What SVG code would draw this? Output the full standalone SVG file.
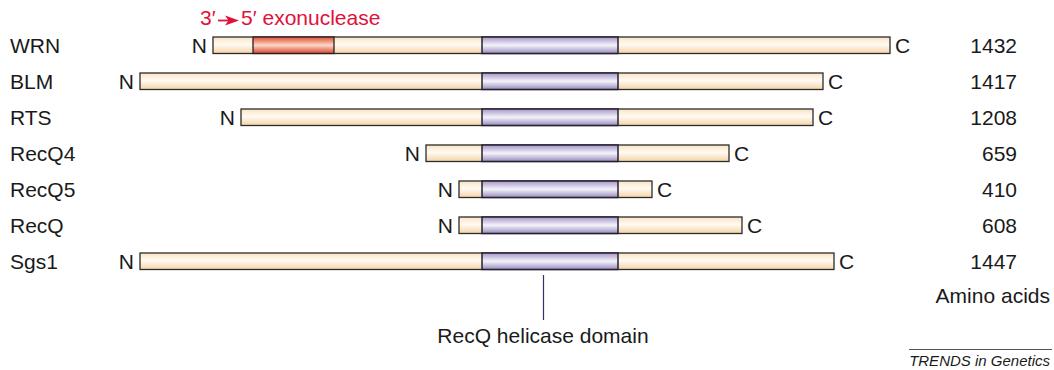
<svg xmlns="http://www.w3.org/2000/svg" width="1054" height="370" viewBox="0 0 1054 370">
  <defs>
    <linearGradient id="gBody" x1="0" y1="0" x2="0" y2="1">
      <stop offset="0" stop-color="#fbe3c2"/>
      <stop offset="0.45" stop-color="#fffbf3"/>
      <stop offset="1" stop-color="#f6d3a6"/>
    </linearGradient>
    <linearGradient id="gHel" x1="0" y1="0" x2="0" y2="1">
      <stop offset="0" stop-color="#a597c8"/>
      <stop offset="0.5" stop-color="#f5f3fb"/>
      <stop offset="1" stop-color="#968abd"/>
    </linearGradient>
    <linearGradient id="gExo" x1="0" y1="0" x2="0" y2="1">
      <stop offset="0" stop-color="#e0502f"/>
      <stop offset="0.5" stop-color="#fcd8ca"/>
      <stop offset="1" stop-color="#d8432a"/>
    </linearGradient>
  </defs>
  <style>
    text { font-family: "Liberation Sans", Arial, sans-serif; font-size: 21px; fill: #1a1a1a; }
    .body { fill: url(#gBody); stroke: #2b2b2b; stroke-width: 1.3; }
    .hel { fill: url(#gHel); stroke: #262030; stroke-width: 1.5; }
    .exo { fill: url(#gExo); stroke: #2b2020; stroke-width: 1.3; }
    .end { text-anchor: end; }
    .red { fill: #e0103c; }
    .credit { font-size: 15px; font-style: italic; }
  </style>

  <rect width="1054" height="370" fill="#ffffff"/>

  <!-- exonuclease label -->
  <g id="exo-label">
    <text class="red" x="200" y="25">3′</text>
    <line x1="218" y1="20.5" x2="230" y2="20.5" stroke="#e0103c" stroke-width="1.8"/>
    <polygon points="225,15.5 239,20.5 225,25.5 228.5,20.5" fill="#e0103c"/>
    <text class="red" x="241" y="25">5′ exonuclease</text>
  </g>

  <g id="WRN">
    <text x="10" y="53">WRN</text>
    <rect class="body" x="213" y="37" width="677" height="16.5"/>
    <rect class="exo" x="253" y="37" width="81" height="16.5"/>
    <rect class="hel" x="482" y="37" width="136" height="16.5"/>
    <text class="end" x="207" y="53">N</text>
    <text x="895" y="53">C</text>
    <text class="end" x="1017" y="53">1432</text>
  </g>

  <g id="BLM">
    <text x="10" y="89">BLM</text>
    <rect class="body" x="140" y="73" width="683" height="16.5"/>
    <rect class="hel" x="482" y="73" width="136" height="16.5"/>
    <text class="end" x="134" y="89">N</text>
    <text x="828" y="89">C</text>
    <text class="end" x="1017" y="89">1417</text>
  </g>

  <g id="RTS">
    <text x="10" y="125">RTS</text>
    <rect class="body" x="241" y="109" width="572" height="16.5"/>
    <rect class="hel" x="482" y="109" width="136" height="16.5"/>
    <text class="end" x="235" y="125">N</text>
    <text x="818" y="125">C</text>
    <text class="end" x="1017" y="125">1208</text>
  </g>

  <g id="RecQ4">
    <text x="10" y="161">RecQ4</text>
    <rect class="body" x="426" y="145" width="303" height="16.5"/>
    <rect class="hel" x="482" y="145" width="136" height="16.5"/>
    <text class="end" x="420" y="161">N</text>
    <text x="734" y="161">C</text>
    <text class="end" x="1017" y="161">659</text>
  </g>

  <g id="RecQ5">
    <text x="10" y="197">RecQ5</text>
    <rect class="body" x="459" y="181" width="193" height="16.5"/>
    <rect class="hel" x="482" y="181" width="136" height="16.5"/>
    <text class="end" x="453" y="197">N</text>
    <text x="657" y="197">C</text>
    <text class="end" x="1017" y="197">410</text>
  </g>

  <g id="RecQ">
    <text x="10" y="233">RecQ</text>
    <rect class="body" x="459" y="217" width="283" height="16.5"/>
    <rect class="hel" x="482" y="217" width="136" height="16.5"/>
    <text class="end" x="453" y="233">N</text>
    <text x="747" y="233">C</text>
    <text class="end" x="1017" y="233">608</text>
  </g>

  <g id="Sgs1">
    <text x="10" y="269">Sgs1</text>
    <rect class="body" x="140" y="253" width="694" height="16.5"/>
    <rect class="hel" x="482" y="253" width="136" height="16.5"/>
    <text class="end" x="134" y="269">N</text>
    <text x="839" y="269">C</text>
    <text class="end" x="1017" y="269">1447</text>
  </g>

  <g id="units">
    <text class="end" x="1050" y="303">Amino acids</text>
  </g>

  <!-- pointer from the helicase domain to its label -->
  <g id="connectors">
    <line x1="543.5" y1="275" x2="543.5" y2="320" stroke="#3b2d6b" stroke-width="1.2"/>
  </g>

  <g id="helicase-label">
    <text x="543" y="343" text-anchor="middle">RecQ helicase domain</text>
  </g>

  <g id="credit">
    <line x1="909" y1="349.5" x2="1052" y2="349.5" stroke="#555" stroke-width="1"/>
    <text class="credit end" x="1050" y="366">TRENDS in Genetics</text>
  </g>
</svg>
